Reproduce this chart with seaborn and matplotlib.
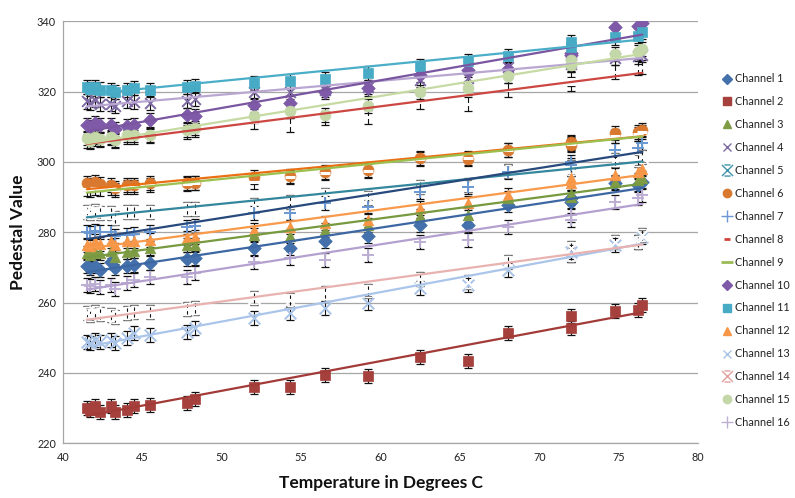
import numpy as np
import pandas as pd
import matplotlib
matplotlib.use("Agg")
import matplotlib.pyplot as plt
from matplotlib.path import Path
import seaborn as sns

# ---------------- data ----------------
temps = [41.5, 41.7, 42.0, 42.3, 43.0, 43.3, 44.0, 44.5, 45.5, 47.8, 48.3, 52.0,
         54.3, 56.5, 59.2, 62.5, 65.5, 68.0, 72.0, 72.0, 74.8, 76.2, 76.5]

ch1 = [270.3, 269.8, 270.5, 269.3, 271.6, 269.8, 270.3, 270.6, 271.3, 272.3, 272.6, 275.4,
       275.6, 277.6, 278.9, 282.0, 282.0, 287.8, 289.7, 288.5, 293.9, 293.5, 294.4]
ch2 = [230.0, 229.5, 230.5, 229.0, 230.5, 229.0, 229.5, 230.5, 231.0, 231.5, 232.5, 236.1,
       236.1, 239.4, 239.2, 244.6, 243.4, 251.3, 256.2, 252.9, 257.7, 257.9, 259.3]
ch3 = [274.0, 273.5, 274.5, 274.0, 274.8, 273.0, 274.5, 274.8, 275.5, 276.4, 276.4, 279.2,
       278.9, 280.6, 282.0, 284.5, 284.9, 289.7, 290.1, 291.0, 294.4, 294.9, 295.5]
ch4 = [317.2, 316.8, 317.5, 316.5, 316.5, 315.8, 317.3, 317.0, 316.7, 317.3, 317.8, 320.0,
       320.0, 320.5, 321.2, 323.3, 323.8, 327.0, 328.5, 328.0, 329.5, 330.0, 330.5]
ch5 = [285.9, 285.5, 286.0, 285.4, 285.4, 284.0, 285.7, 285.7, 285.9, 286.6, 286.6, 287.8,
       288.7, 290.6, 289.7, 293.0, 293.5, 297.3, 298.7, 298.0, 300.6, 300.6, 301.3]
ch6 = [294.0, 293.5, 294.3, 293.8, 293.5, 292.5, 293.5, 293.5, 294.1, 294.0, 294.0, 295.8,
       296.0, 297.2, 297.7, 301.0, 300.8, 303.4, 305.8, 304.8, 308.2, 308.6, 309.1]
ch7 = [280.2, 279.8, 280.5, 280.0, 280.2, 279.0, 279.2, 279.5, 280.0, 281.6, 281.8, 285.4,
       285.4, 288.2, 287.3, 291.5, 293.0, 297.2, 300.1, 299.0, 303.4, 303.9, 305.3]
ch8 = [306.0, 305.8, 306.5, 306.2, 306.8, 306.0, 307.0, 307.2, 307.5, 308.5, 309.0, 311.5,
       310.5, 312.4, 312.7, 317.1, 316.4, 320.4, 322.3, 323.5, 325.5, 326.6, 327.0]
ch9 = [292.2, 292.0, 292.5, 292.3, 292.5, 292.0, 292.8, 293.0, 293.5, 293.8, 294.0, 294.4,
       295.8, 296.8, 297.5, 300.8, 301.2, 303.5, 305.5, 305.0, 307.5, 308.0, 308.5]
ch10 = [310.5, 310.0, 311.0, 310.5, 310.5, 309.5, 310.3, 310.6, 312.0, 313.3, 313.1, 316.2,
        316.7, 320.0, 320.9, 324.7, 326.1, 326.5, 330.5, 331.0, 338.3, 338.8, 339.4]
ch11 = [321.4, 320.8, 321.2, 320.6, 320.4, 319.8, 320.5, 321.0, 320.4, 321.4, 321.6, 322.5,
        323.1, 323.6, 325.2, 327.3, 328.7, 330.2, 334.2, 332.8, 335.4, 335.8, 336.9]
ch12 = [276.4, 276.0, 277.4, 276.8, 277.4, 276.5, 277.4, 277.4, 277.8, 278.5, 278.7, 280.6,
        281.6, 282.6, 283.5, 286.8, 288.2, 290.6, 295.3, 293.9, 296.3, 297.2, 298.0]
ch13 = [248.9, 248.5, 249.4, 248.8, 249.4, 248.5, 249.9, 251.3, 250.8, 251.7, 252.7, 255.5,
        257.0, 258.4, 259.8, 264.1, 265.0, 269.3, 274.5, 273.5, 276.4, 277.3, 278.7]
ch14 = [257.0, 256.5, 257.2, 256.8, 256.5, 256.0, 257.0, 257.4, 257.4, 258.1, 258.5, 261.2,
        260.7, 262.6, 263.4, 266.6, 265.9, 271.6, 275.4, 273.5, 277.3, 277.3, 279.2]
ch15 = [306.7, 306.0, 307.0, 306.5, 307.0, 306.3, 307.7, 307.7, 307.7, 309.1, 309.6, 313.1,
        314.5, 313.3, 315.9, 320.0, 321.1, 324.4, 328.9, 327.5, 330.6, 331.3, 332.0]
ch16 = [265.0, 264.6, 265.2, 264.5, 265.0, 264.0, 265.5, 266.4, 267.4, 267.4, 268.3, 271.6,
        272.6, 272.1, 273.5, 277.3, 277.8, 281.6, 284.9, 283.5, 288.7, 289.7, 290.6]

channel_names = [f"Channel {i}" for i in range(1, 17)]
channel_values = [ch1, ch2, ch3, ch4, ch5, ch6, ch7, ch8, ch9, ch10, ch11, ch12, ch13, ch14, ch15, ch16]
error_size = 2.0

x_ticks = [40, 45, 50, 55, 60, 65, 70, 75, 80]
y_ticks = [220, 240, 260, 280, 300, 320, 340]

# ---------------- styles ----------------
star = Path([(-1, -1), (1, 1), (-1, 1), (1, -1), (-0.55, 1), (0.55, 1), (-0.55, -1), (0.55, -1)],
            [Path.MOVETO, Path.LINETO, Path.MOVETO, Path.LINETO,
             Path.MOVETO, Path.LINETO, Path.MOVETO, Path.LINETO])
dash_short = Path([(-0.5, 0), (0.5, 0)], [Path.MOVETO, Path.LINETO])
dash_long = Path([(-1, 0), (1, 0)], [Path.MOVETO, Path.LINETO])

# (marker, marker colour, line colour, size, filled)
styles = [
    ("D", "#4471AC", "#3C67A3", 48, True),
    ("s", "#A5403C", "#A23B37", 58, True),
    ("^", "#7F9C45", "#77993F", 58, True),
    ("x", "#7E6AA3", "#B9A7D2", 60, False),
    (star, "#3F93AB", "#34879C", 75, False),
    ("o", "#D9782F", "#EA6F14", 62, True),
    ("+", "#6A98D2", "#27497B", 80, False),
    (dash_short, "#D2433C", "#CD4742", 40, False),
    (dash_long, "#9CBB55", "#9BC04F", 60, False),
    ("D", "#7E5AA8", "#7A56A1", 48, True),
    ("s", "#48ABC6", "#4BAEC8", 58, True),
    ("^", "#F79646", "#F8994B", 58, True),
    ("x", "#A9C3E6", "#AAC5E9", 70, False),
    (star, "#E2A2A0", "#E8B2B0", 75, False),
    ("o", "#C4D7A8", "#C6DAA3", 62, True),
    ("+", "#BDAFD4", "#B4A0CF", 80, False),
]

sns.set_theme(style="white")
plt.rcParams["font.family"] = ["Lato", "DejaVu Sans"]

fig = plt.figure(figsize=(7.95, 4.98), dpi=100)
ax = fig.add_axes([63 / 795, 1 - 443.3 / 498, 635 / 795, 422 / 498])

df = pd.DataFrame({
    "Temperature": np.tile(temps, len(channel_names)),
    "Value": np.concatenate(channel_values),
    "Channel": np.repeat(channel_names, len(temps)),
})

handles = []
for name, (mk, mcol, lcol, size, filled) in zip(channel_names, styles):
    sub = df[df["Channel"] == name]
    ax.errorbar(sub["Temperature"], sub["Value"], yerr=error_size, fmt="none",
                ecolor="#111111", elinewidth=0.8, capsize=2.8, capthick=0.9, zorder=2)
    if filled:
        sns.scatterplot(data=sub, x="Temperature", y="Value", marker=mk, color=mcol,
                        s=size, edgecolor=mcol, linewidth=0.5, ax=ax, zorder=3, legend=False)
    else:
        lw = 2.2 if mk in (dash_short, dash_long) else 1.4
        sns.scatterplot(data=sub, x="Temperature", y="Value", marker=mk, color=mcol,
                        s=size, linewidth=lw, ax=ax, zorder=3, legend=False)
    sns.regplot(data=sub, x="Temperature", y="Value", scatter=False, ci=None,
                truncate=True, line_kws=dict(color=lcol, lw=1.6, zorder=4), ax=ax)
    if filled:
        h = plt.Line2D([], [], ls="none", marker=mk, color=mcol, markersize=6 if mk != "D" else 5,
                       markeredgecolor=mcol)
    else:
        lw = 2.0 if mk in (dash_short, dash_long) else 1.0
        ms = {"+": 8, "x": 6}.get(mk, 7) if isinstance(mk, str) else (5 if mk is dash_short else 8)
        h = plt.Line2D([], [], ls="none", marker=mk, color=mcol, markersize=ms,
                       markeredgewidth=lw)
    handles.append(h)

ax.set_xlim(40, 80)
ax.set_ylim(220, 340)
ax.set_xticks(x_ticks)
ax.set_yticks(y_ticks)
ax.set_xticklabels([str(t) for t in x_ticks])
ax.set_yticklabels([str(t) for t in y_ticks])
ax.grid(axis="y", color="#A6A6A6", lw=0.9)
ax.grid(axis="x", visible=False)
ax.set_axisbelow(True)
for side in ("top", "right"):
    ax.spines[side].set_visible(False)
for side in ("left", "bottom"):
    ax.spines[side].set_color("#A6A6A6")
    ax.spines[side].set_linewidth(0.9)
ax.tick_params(axis="both", which="major", labelsize=7.8, labelcolor="#222222",
               direction="out", length=4, width=0.8, color="#A6A6A6", pad=2)
ax.tick_params(axis="y", length=3)

ax.set_xlabel("Temperature in Degrees C", fontsize=12.5, fontweight="bold", color="#111111", labelpad=9)
ax.set_ylabel("Pedestal Value", fontsize=12.5, fontweight="bold", color="#111111", labelpad=8)

leg = fig.legend(handles, channel_names, loc="upper left", bbox_to_anchor=(717 / 795, 1 - 69 / 498),
                 frameon=False, fontsize=7.8, handlelength=1.0, handletextpad=0.3,
                 labelspacing=1.10, borderaxespad=0)
for t in leg.get_texts():
    t.set_color("#222222")

fig.savefig("out.png", dpi=100)
